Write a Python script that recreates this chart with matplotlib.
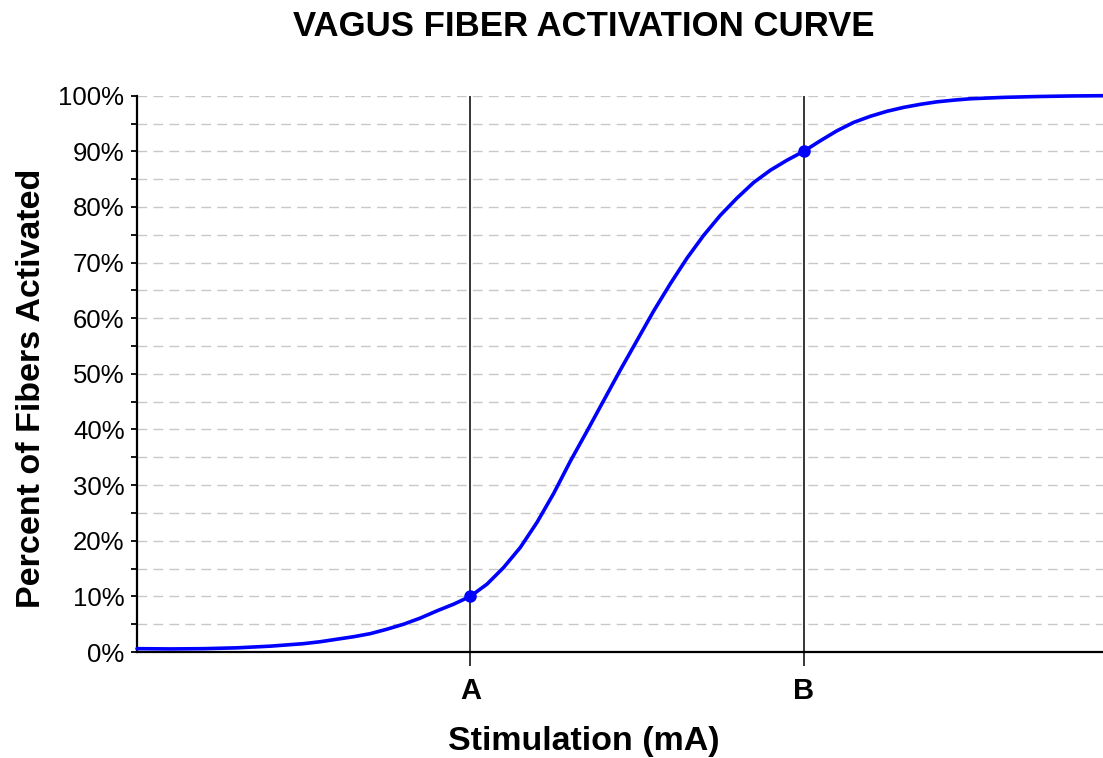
import matplotlib.pyplot as plt
from matplotlib.ticker import MultipleLocator, FuncFormatter

# stimulation in units where A = 1 and B = 2
stim = [0.00, 0.10, 0.20, 0.30, 0.40, 0.50, 0.55, 0.60, 0.65, 0.70, 0.75,
        0.80, 0.85, 0.90, 0.95, 1.00, 1.05, 1.10, 1.15, 1.20, 1.25, 1.30,
        1.35, 1.40, 1.45, 1.50, 1.55, 1.60, 1.65, 1.70, 1.75, 1.80, 1.85,
        1.90, 1.95, 2.00, 2.05, 2.10, 2.15, 2.20, 2.25, 2.30, 2.35, 2.40,
        2.45, 2.50, 2.60, 2.70, 2.80, 2.898]
percent = [0.6, 0.55, 0.6, 0.75, 1.05, 1.5, 1.85, 2.3, 2.75, 3.3, 4.1,
           5.0, 6.1, 7.4, 8.6, 10.0, 12.2, 15.2, 18.8, 23.3, 28.5, 34.3,
           39.7, 45.2, 50.7, 56.0, 61.3, 66.2, 70.8, 74.9, 78.5, 81.6, 84.4,
           86.6, 88.4, 90.0, 91.9, 93.7, 95.2, 96.3, 97.2, 97.9, 98.45, 98.9,
           99.2, 99.45, 99.7, 99.85, 99.95, 100.0]

marker_x = [1, 2]
marker_y = [10, 90]
tick_labels = ['A', 'B']

plt.rcParams['font.family'] = ['Liberation Sans', 'DejaVu Sans']

fig = plt.figure(figsize=(11.03, 7.58), dpi=100)
ax = fig.add_axes([137 / 1103, 1 - 652 / 758, 966 / 1103, (652 - 95.7) / 758])

ax.set_xlim(0, 2.898)
ax.set_ylim(0, 100)

ax.yaxis.set_major_locator(MultipleLocator(10))
ax.yaxis.set_minor_locator(MultipleLocator(5))
ax.yaxis.set_major_formatter(FuncFormatter(lambda v, p: '%d%%' % v))
ax.grid(axis='y', which='both', color='#c8c8c8', linewidth=1.0,
        linestyle=(0, (7, 4.5)), zorder=0)
ax.set_axisbelow(True)

for xv in marker_x:
    ax.axvline(xv, color='black', linewidth=1.1, zorder=1)

ax.plot(stim, percent, color='#0000ff', linewidth=2.6, zorder=3,
        clip_on=False, solid_capstyle='round', solid_joinstyle='round')
ax.plot(marker_x, marker_y, 'o', color='#0000ff', markersize=8, zorder=4)

ax.set_xticks(marker_x)
ax.set_xticklabels(tick_labels, fontsize=21, fontweight='bold')
ax.tick_params(axis='x', length=10, width=1.1, pad=8)
ax.tick_params(axis='y', which='both', length=4, width=1.3, labelsize=18.5,
               pad=5)

for s in ['top', 'right']:
    ax.spines[s].set_visible(False)
ax.spines['left'].set_linewidth(1.6)
ax.spines['bottom'].set_linewidth(1.6)

ax.set_xlabel('Stimulation (mA)', fontsize=24.5, fontweight='bold')
ax.xaxis.set_label_coords(0.5 - 36 / 966, -0.133)
ax.set_ylabel('Percent of Fibers Activated', fontsize=24.5, fontweight='bold')
ax.yaxis.set_label_coords(-0.093, 0.473)

fig.text(584 / 1103, 1 - 26 / 758, 'VAGUS FIBER ACTIVATION CURVE',
         fontsize=25, fontweight='bold', ha='center', va='center')

plt.savefig('out.png', dpi=100)
